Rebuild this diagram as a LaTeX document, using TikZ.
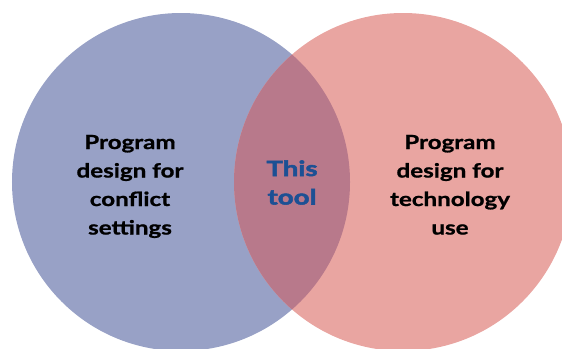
\documentclass[tikz,border=0pt]{standalone}
\usepackage{fontspec}
\setmainfont{Lato}[FakeStretch=1.24,FakeBold=1]
\newfontfamily\heavyfont{Lato}[FakeStretch=1.32,FakeBold=2.5]
\definecolor{leftblue}{RGB}{152,161,198}
\definecolor{rightpink}{RGB}{233,165,161}
\definecolor{overlapcol}{RGB}{184,121,139}
\definecolor{tooltext}{RGB}{28,80,148}
\begin{document}
\begin{tikzpicture}[x=1bp,y=-1bp,
  setcircle/.style={circle,minimum size=338bp,inner sep=0pt,draw=none},
  lbl/.style={align=center,inner sep=0pt,font={\fontsize{19.5bp}{28.5bp}\selectfont\bfseries}},
  toollbl/.style={align=center,inner sep=0pt,text=tooltext,font={\heavyfont\fontsize{21bp}{28.5bp}\selectfont\bfseries}},
]
\useasboundingbox (0,0) rectangle (562,348);
\clip (0,0) rectangle (562,348);
\node[setcircle,fill=leftblue] (L) at (181,182) {};
\node[setcircle,fill=rightpink] (R) at (403,182) {};
\begin{scope}
  \clip (181,182) circle (169);
  \fill[overlapcol] (403,182) circle (169);
\end{scope}
\node[lbl,anchor=base] (lt) at (130,234.5) {Program\\design for\\conflict\\settings};
\node[lbl,anchor=base] (rt) at (450,234.5) {Program\\design for\\technology\\use};
\node[toollbl,anchor=base] (mt) at (292,204.5) {This\\tool};
\end{tikzpicture}
\end{document}
